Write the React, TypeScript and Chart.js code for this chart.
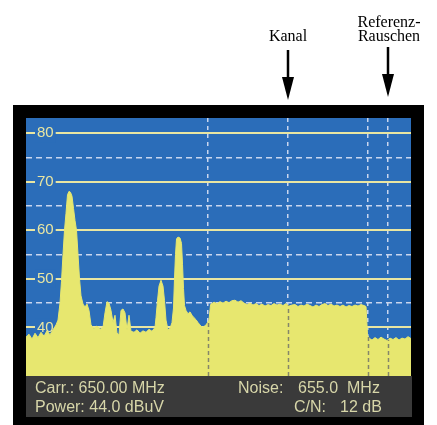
import React, { useEffect, useRef } from "react";
import { Chart, registerables } from "chart.js";

Chart.register(...registerables);

// Frequency axis (MHz) and measured level (dBuV) of the spectrum trace
const freqsMHz = [
  636.9, 637.05, 637.2, 637.35, 637.5, 637.65, 637.8, 637.95, 638.1, 638.25,
  638.4, 638.5, 638.6, 638.675, 638.75, 638.825, 638.9, 638.975, 639.05, 639.125,
  639.2, 639.275, 639.35, 639.425, 639.5, 639.575, 639.65, 639.75, 639.85, 639.95,
  640.05, 640.15, 640.3, 640.45, 640.6, 640.75, 640.85, 640.95, 641.05, 641.15,
  641.25, 641.35, 641.45, 641.55, 641.65, 641.75, 641.85, 641.95, 642.05, 642.15,
  642.3, 642.45, 642.6, 642.75, 642.9, 643.05, 643.2, 643.35, 643.4, 643.475,
  643.55, 643.65, 643.75, 643.825, 643.9, 644.0, 644.1, 644.2, 644.275, 644.325,
  644.375, 644.425, 644.5, 644.6, 644.675, 644.725, 644.775, 644.825, 644.9, 645.0,
  645.1, 645.2, 645.3, 645.4, 645.5, 645.6, 645.7, 645.8, 645.9, 645.975,
  646.05, 646.125, 646.15, 646.3, 646.45, 646.6, 646.75, 646.9, 647.05, 647.2,
  647.35, 647.5, 647.65, 647.8, 647.95, 648.1, 648.25, 648.4, 648.55, 648.7,
  648.85, 649.0, 649.15, 649.3, 649.45, 649.6, 649.75, 649.9, 650.05, 650.2,
  650.35, 650.5, 650.65, 650.8, 650.95, 651.1, 651.25, 651.4, 651.55, 651.7,
  651.85, 652.0, 652.15, 652.3, 652.45, 652.6, 652.75, 652.9, 653.05, 653.2,
  653.35, 653.5, 653.65, 653.8, 653.9, 653.975, 654.05, 654.2, 654.35, 654.5,
  654.65, 654.8, 654.95, 655.1, 655.25, 655.4, 655.55, 655.7, 655.85, 656.0,
  656.15,
];

const levelsDbuV = [
  38.0, 38.6, 37.6, 38.8, 37.9, 39.0, 38.2, 39.3, 38.5, 39.5,
  40.5, 41.5, 45.0, 49.5, 55.0, 60.0, 63.5, 67.3, 68.0, 67.8,
  67.0, 64.5, 62.0, 60.0, 55.0, 50.0, 46.5, 44.8, 44.2, 44.8,
  43.5, 40.5, 39.8, 40.3, 39.6, 40.0, 43.0, 45.3, 45.0, 43.5,
  41.0, 42.5, 38.8, 38.5, 43.5, 43.8, 43.0, 39.5, 42.5, 39.2,
  39.0, 39.5, 38.8, 39.3, 39.0, 39.6, 39.2, 40.0, 42.0, 45.5,
  48.5, 49.7, 48.5, 45.5, 41.5, 39.5, 39.8, 41.0, 44.0, 50.0,
  55.0, 58.2, 58.6, 58.4, 57.3, 53.0, 48.0, 44.5, 43.5, 42.8,
  43.2, 42.5, 42.0, 41.6, 41.0, 40.5, 40.0, 40.2, 40.5, 41.0,
  41.5, 44.6, 44.8, 45.2, 44.9, 45.3, 45.0, 45.4, 45.1, 45.5,
  45.6, 45.2, 45.5, 45.0, 44.7, 45.0, 44.6, 44.9, 44.5, 44.8,
  44.4, 44.7, 44.5, 44.9, 44.6, 44.8, 44.5, 44.9, 44.4, 44.6,
  44.7, 44.3, 44.6, 44.4, 44.8, 44.5, 44.2, 44.6, 44.3, 44.7,
  44.9, 44.5, 44.8, 44.4, 44.6, 44.3, 44.6, 44.2, 44.5, 44.3,
  44.6, 44.4, 44.7, 44.5, 44.3, 38.5, 37.8, 37.4, 37.9, 37.5,
  38.0, 37.6, 37.3, 37.8, 37.5, 37.9, 37.4, 37.8, 37.6, 38.1,
  37.7,
];

const X_MIN = 636.9;
const X_MAX = 656.15;
const Y_MIN = 30;
const Y_MAX = 83.1;

const yLabelTicks = [40, 50, 60, 70, 80];
const yHalfTicks = [35, 45, 55, 65, 75];
const markerFreqs = [646, 650, 654, 655];

const infoLeft = ["Carr.: 650.00 MHz", "Power: 44.0 dBuV"];
const infoNoise = ["Noise:", "655.0", "MHz"];
const infoCN = ["C/N:", "12 dB"];

const annotKanal = "Kanal";
const annotRef = ["Referenz-", "Rauschen"];
const annotFreqs = [650, 655];

const BLUE = "#2b6db9";
const YELLOW = "#e7e76f";
const CREAM = "#e9e6a2";
const DASH = "#c9d6ee";
const TEXT = "#d7d6a9";
const SANS = '"Liberation Sans", Arial, sans-serif';
const SERIF = '"Liberation Serif", "Times New Roman", serif';

function levelAt(f: number): number {
  for (let i = 0; i < freqsMHz.length - 1; i++) {
    if (f >= freqsMHz[i] && f <= freqsMHz[i + 1]) {
      const t = (f - freqsMHz[i]) / (freqsMHz[i + 1] - freqsMHz[i]);
      return levelsDbuV[i] + t * (levelsDbuV[i + 1] - levelsDbuV[i]);
    }
  }
  return levelsDbuV[levelsDbuV.length - 1];
}

const framePlugin = {
  id: "analyzerFrame",
  beforeDraw(chart: any) {
    const { ctx, chartArea: a } = chart;
    ctx.save();
    ctx.fillStyle = "#ffffff";
    ctx.fillRect(0, 0, chart.width, chart.height);
    ctx.fillStyle = "#000000";
    ctx.fillRect(13, 105, 411, 320);
    ctx.fillStyle = BLUE;
    ctx.fillRect(a.left, a.top, a.right - a.left, a.bottom - a.top);
    ctx.fillStyle = "#3a3a3a";
    ctx.fillRect(a.left, a.bottom, a.right - a.left + 1, 41);
    ctx.restore();
  },
  afterDatasetsDraw(chart: any) {
    const { ctx, chartArea: a, scales } = chart;
    ctx.save();
    ctx.strokeStyle = "#85866a";
    ctx.lineWidth = 1.5;
    ctx.setLineDash([4, 3]);
    markerFreqs.forEach((f) => {
      const px = Math.round(scales.x.getPixelForValue(f)) + 0.5;
      const py = scales.y.getPixelForValue(levelAt(f));
      ctx.beginPath();
      ctx.moveTo(px, a.bottom);
      ctx.lineTo(px, py);
      ctx.stroke();
    });
    ctx.restore();
  },
  afterDraw(chart: any) {
    const { ctx, scales } = chart;
    ctx.save();
    // info text
    ctx.fillStyle = TEXT;
    ctx.font = `16px ${SANS}`;
    ctx.textBaseline = "alphabetic";
    ctx.textAlign = "left";
    ctx.fillText(infoLeft[0], 35, 393);
    ctx.fillText(infoLeft[1], 35, 411.5);
    ctx.fillText(infoNoise[0], 238, 393);
    ctx.fillText(infoNoise[1], 298, 393);
    ctx.fillText(infoNoise[2], 347, 393);
    ctx.fillText(infoCN[0], 294, 411.5);
    ctx.fillText(infoCN[1], 340, 411.5);

    // annotations
    ctx.fillStyle = "#000000";
    ctx.font = `16px ${SERIF}`;
    ctx.textAlign = "center";
    const kx = scales.x.getPixelForValue(annotFreqs[0]);
    const rx = scales.x.getPixelForValue(annotFreqs[1]);
    ctx.fillText(annotKanal, kx, 41);
    ctx.fillText(annotRef[0], rx + 1, 27);
    ctx.fillText(annotRef[1], rx + 1, 41);

    const arrow = (x: number, top: number, headTop: number, tip: number) => {
      ctx.strokeStyle = "#000000";
      ctx.lineWidth = 2.5;
      ctx.setLineDash([]);
      ctx.beginPath();
      ctx.moveTo(x, top);
      ctx.lineTo(x, headTop + 2);
      ctx.stroke();
      ctx.beginPath();
      ctx.moveTo(x - 6, headTop);
      ctx.lineTo(x + 6, headTop);
      ctx.lineTo(x, tip);
      ctx.closePath();
      ctx.fill();
    };
    arrow(kx, 50, 77, 100);
    arrow(rx, 47, 74, 97);
    ctx.restore();
  },
};

export default function App() {
  const ref = useRef<HTMLCanvasElement | null>(null);
  useEffect(() => {
    if (!ref.current) return;
    const chart = new Chart(ref.current, {
      type: "line",
      data: {
        datasets: [
          {
            data: freqsMHz.map((f, i) => ({ x: f, y: levelsDbuV[i] })),
            fill: "start",
            backgroundColor: YELLOW,
            borderColor: YELLOW,
            borderWidth: 1,
            pointRadius: 0,
            tension: 0,
          },
        ],
      },
      options: {
        animation: false,
        responsive: false,
        events: [],
        layout: { padding: { left: 26, right: 26, top: 118, bottom: 49 } },
        plugins: {
          legend: { display: false },
          tooltip: { enabled: false },
          title: { display: false },
        },
        scales: {
          x: {
            type: "linear",
            min: X_MIN,
            max: X_MAX,
            afterBuildTicks: (s: any) => {
              s.ticks = markerFreqs.map((v) => ({ value: v }));
            },
            afterFit: (s: any) => {
              s.height = 0;
            },
            ticks: { display: false },
            grid: { color: DASH, lineWidth: 1.5, drawTicks: false },
            border: { display: false, dash: [4, 4] },
          },
          y2: {
            type: "linear",
            position: "left",
            min: Y_MIN,
            max: Y_MAX,
            afterBuildTicks: (s: any) => {
              s.ticks = yHalfTicks.map((v) => ({ value: v }));
            },
            afterFit: (s: any) => {
              s.width = 0;
            },
            ticks: { display: false },
            grid: { color: DASH, lineWidth: 1.5, drawTicks: false },
            border: { display: false, dash: [6, 4] },
          },
          y: {
            type: "linear",
            position: "left",
            min: Y_MIN,
            max: Y_MAX,
            afterBuildTicks: (s: any) => {
              s.ticks = yLabelTicks.map((v) => ({ value: v }));
            },
            afterFit: (s: any) => {
              s.width = 0;
            },
            ticks: {
              mirror: true,
              padding: 11,
              color: CREAM,
              font: { family: SANS, size: 15 },
              showLabelBackdrop: true,
              backdropColor: BLUE,
              backdropPadding: { left: 2, right: 2, top: 0, bottom: 0 },
              callback: (v: any) => String(v),
            },
            grid: { color: CREAM, lineWidth: 2, drawTicks: false },
            border: { display: false },
          },
        },
      } as any,
      plugins: [framePlugin],
    });
    return () => chart.destroy();
  }, []);

  return (
    <div style={{ position: "absolute", left: 0, top: 0, width: 437, height: 425, background: "#fff" }}>
      <canvas ref={ref} width={437} height={425} style={{ display: "block", width: 437, height: 425 }} />
    </div>
  );
}
